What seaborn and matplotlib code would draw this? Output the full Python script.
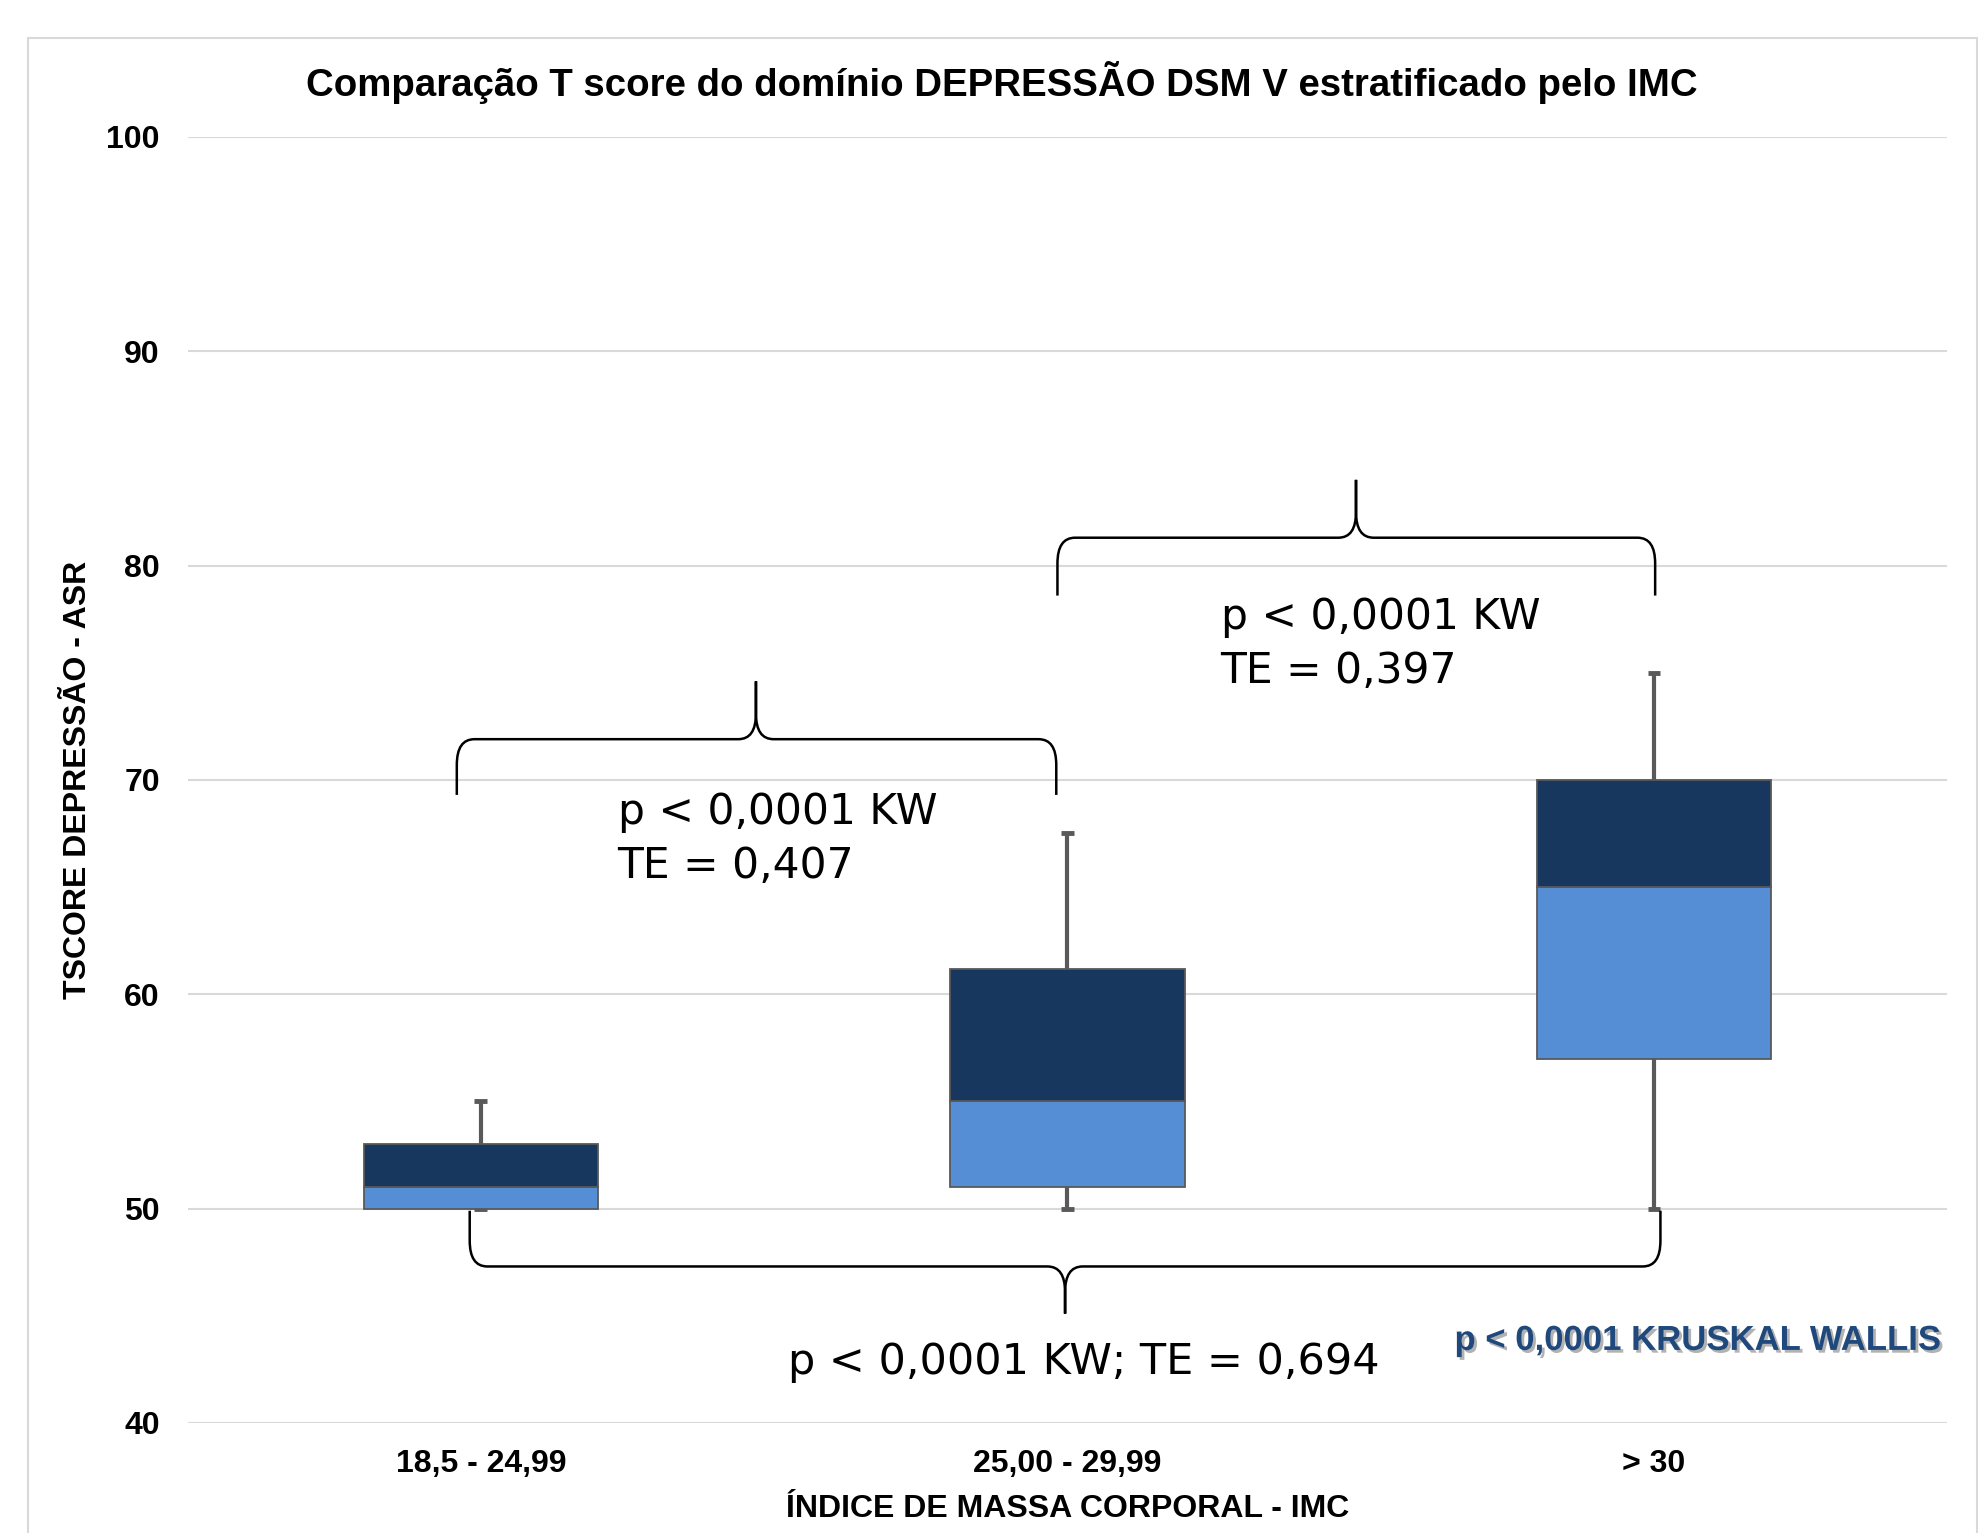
import matplotlib
matplotlib.use("Agg")
import matplotlib.pyplot as plt
import matplotlib.patheffects as pe
from matplotlib.path import Path
from matplotlib.patches import PathPatch, Rectangle
import pandas as pd
import seaborn as sns

# box plot statistics of the T score per IMC class
imc_classes = ["18,5 - 24,99", "25,00 - 29,99", "> 30"]
t_min = [50, 50, 50]
t_q1 = [50, 51, 57]
t_median = [51, 55, 65]
t_q3 = [53, 61.2, 70]
t_max = [55, 67.5, 75]

# pairwise comparisons: (x start, x end, x tip, y end, y line, y tip)
braces = [
    (-0.041, 0.981, 0.469, 69.3, 71.9, 74.6),
    (0.983, 2.002, 1.492, 78.6, 81.3, 84.0),
    (-0.019, 2.011, 0.996, 49.9, 47.3, 45.1),
]
brace_texts = ["p < 0,0001 KW\nTE = 0,407", "p < 0,0001 KW\nTE = 0,397", "p < 0,0001 KW; TE = 0,694"]

LIGHT = "#558ED5"
DARK = "#17375E"
GREY = "#595959"

sns.set_style("white")
plt.rcParams["font.family"] = ["Liberation Sans", "DejaVu Sans"]
plt.rcParams["text.color"] = "black"
plt.rcParams["axes.labelcolor"] = "black"
plt.rcParams["xtick.color"] = "black"
plt.rcParams["ytick.color"] = "black"

df = pd.DataFrame({"imc": imc_classes, "q1": t_q1, "median": t_median, "q3": t_q3})
df["lower"] = df["median"] - df["q1"]
df["upper"] = df["q3"] - df["median"]

fig = plt.figure(figsize=(19.87, 15.33), dpi=100)
ax = fig.add_axes([0.0944, 0.0718, 0.8856, 0.8389])

# whiskers
xs = range(len(imc_classes))
ax.vlines(xs, t_q3, t_max, color=GREY, lw=3, zorder=2)
ax.vlines(xs, t_min, t_q1, color=GREY, lw=3, zorder=2)
ax.hlines(t_max, [x - 0.011 for x in xs], [x + 0.011 for x in xs], color=GREY, lw=3.5, zorder=2)
ax.hlines(t_min, [x - 0.011 for x in xs], [x + 0.011 for x in xs], color=GREY, lw=3.5, zorder=2)

# boxes as stacked bars
sns.barplot(data=df, x="imc", y="lower", bottom=df["q1"].to_numpy(), color=LIGHT,
            saturation=1, width=0.4, errorbar=None, edgecolor=GREY, linewidth=1.3, ax=ax, zorder=3)
sns.barplot(data=df, x="imc", y="upper", bottom=df["median"].to_numpy(), color=DARK,
            saturation=1, width=0.4, errorbar=None, edgecolor=GREY, linewidth=1.3, ax=ax, zorder=3)

ax.set_xlim(-0.5, 2.5)
ax.set_ylim(40, 100)
ax.set_yticks(range(40, 101, 10))
ax.set_axisbelow(True)
ax.yaxis.grid(True, color="#D9D9D9", lw=1.5)
ax.xaxis.grid(False)
for s in ax.spines.values():
    s.set_visible(False)
ax.tick_params(axis="both", length=0, labelsize=23, colors="black")
ax.tick_params(axis="x", pad=19)
ax.tick_params(axis="y", pad=20)
for lab in ax.get_xticklabels() + ax.get_yticklabels():
    lab.set_fontweight("bold")

ax.set_xlabel("ÍNDICE DE MASSA CORPORAL - IMC", fontsize=23, fontweight="bold")
ax.xaxis.set_label_coords(0.5, -0.055)
ax.set_ylabel("TSCORE DEPRESSÃO - ASR", fontsize=23, fontweight="bold")
ax.yaxis.set_label_coords(-0.054, 0.5)

fig.text(0.504, 0.9465, "Comparação T score do domínio DEPRESSÃO DSM V estratificado pelo IMC",
         ha="center", va="center", fontsize=27.6, fontweight="bold")


def draw_brace(x0, x1, xm, y_end, y_line, y_tip, rx=0.03, ry=1.2):
    sy = 1 if y_tip > y_end else -1
    codes = [Path.MOVETO, Path.LINETO, Path.CURVE3, Path.CURVE3, Path.LINETO,
             Path.CURVE3, Path.CURVE3, Path.LINETO]
    verts = []
    for xe, d in ((x0, 1), (x1, -1)):
        verts += [
            (xe, y_end), (xe, y_line - sy * ry),
            (xe, y_line), (xe + d * rx, y_line),
            (xm - d * rx, y_line),
            (xm, y_line), (xm, y_line + sy * ry),
            (xm, y_tip),
        ]
    path = Path(verts, codes + codes)
    ax.add_patch(PathPatch(path, fill=False, edgecolor="black", lw=1.8, zorder=4))


for b in braces:
    draw_brace(*b)

ax.text(0.233, 67.25, brace_texts[0], ha="left", va="center", fontsize=30.5,
        family="DejaVu Sans", linespacing=1.38)
ax.text(1.261, 76.35, brace_texts[1], ha="left", va="center", fontsize=30.5,
        family="DejaVu Sans", linespacing=1.38)
ax.text(1.028, 42.84, brace_texts[2], ha="center", va="center", fontsize=31,
        family="DejaVu Sans")

ax.text(2.075, 43.85, "p < 0,0001 KRUSKAL WALLIS", ha="center", va="center", fontsize=25,
        fontweight="bold", color="#1F497D",
        path_effects=[pe.withSimplePatchShadow(offset=(2, -2), shadow_rgbFace="#808080", alpha=0.6)])

fig.patches.append(Rectangle((0.014, -0.05), 0.981, 1.025, transform=fig.transFigure,
                             fill=False, edgecolor="#D9D9D9", lw=1.5))

fig.savefig("out.png", dpi=100)
